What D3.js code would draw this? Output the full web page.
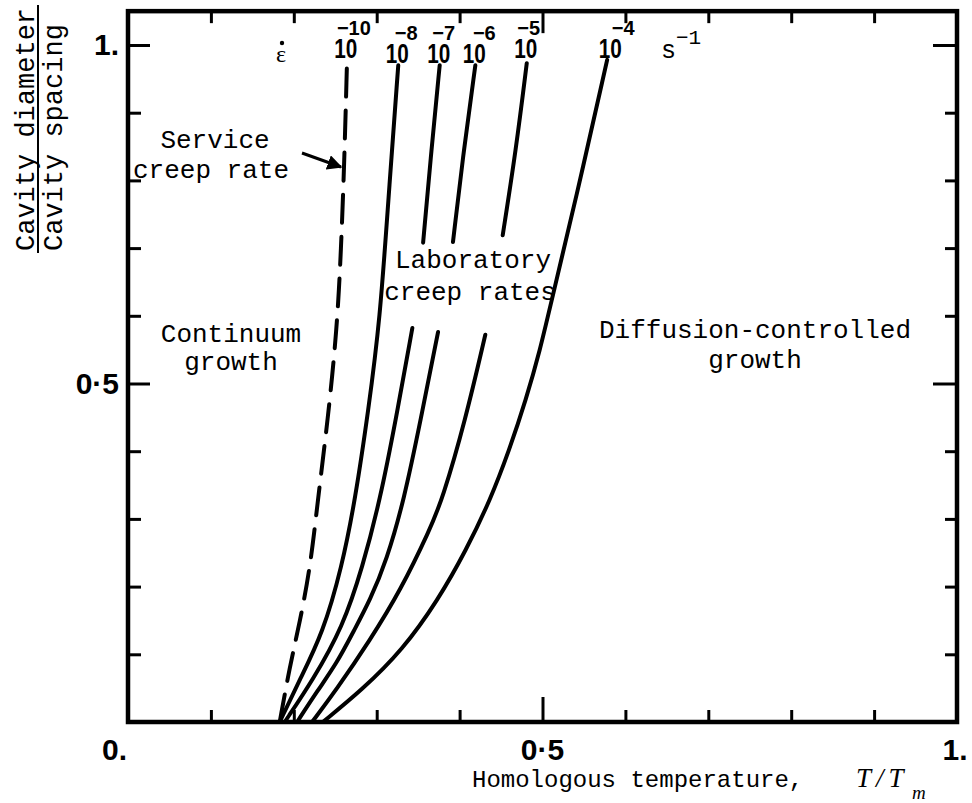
<!DOCTYPE html>
<html>
<head>
<meta charset="utf-8">
<script src="https://cdn.jsdelivr.net/npm/d3@7"></script>
<style>
  body { margin: 0; background: #fff; }
  svg { display: block; }
</style>
</head>
<body>
<svg id="chart" width="972" height="803"></svg>
<script>
// Strain-rate exponents labelling each curve (10^n s^-1)
const rateExponents = ["−10", "−8", "−7", "−6", "−5", "−4"];

// Boundary curves: [T/Tm, cavity diameter / spacing]; null marks a break in the line
const serviceRate = [[0.183,0],[0.195,0.081],[0.207,0.146],[0.220,0.229],[0.229,0.328],[0.241,0.446],[0.252,0.579],[0.257,0.697],[0.261,0.830],[0.264,0.967]];
const rateE8 = [[0.183,0],[0.207,0.062],[0.235,0.131],[0.258,0.229],[0.274,0.328],[0.290,0.461],[0.304,0.594],[0.314,0.771],[0.326,0.970]];
const rateE7 = [[0.189,0],[0.223,0.062],[0.259,0.140],[0.283,0.229],[0.304,0.328],[0.323,0.446],[0.343,0.582],null,[0.356,0.708],[0.366,0.845],[0.376,0.970]];
const rateE6 = [[0.204,0],[0.229,0.047],[0.252,0.087],[0.273,0.136],[0.292,0.180],[0.312,0.239],[0.333,0.328],[0.353,0.446],[0.374,0.576],null,[0.392,0.709],[0.405,0.845],[0.419,0.970]];
const rateE5 = [[0.222,0],[0.251,0.047],[0.292,0.121],[0.329,0.195],[0.364,0.284],[0.379,0.328],[0.407,0.446],[0.431,0.572],null,[0.452,0.719],[0.468,0.845],[0.481,0.973]];
const rateE4 = [[0.235,0],[0.282,0.047],[0.331,0.106],[0.374,0.180],[0.408,0.254],[0.437,0.328],[0.460,0.402],[0.480,0.476],[0.497,0.549],[0.511,0.623],[0.540,0.771],[0.578,0.978]];

// Axis ticks and labels
const xMinorTicks = [0.1,0.2,0.3,0.4,0.6,0.7,0.8,0.9];
const xMajorTicks = [0.5];
const yMinorTicks = [0.1,0.2,0.3,0.4,0.6,0.7,0.8,0.9];
const yMajorTicks = [0.5,1.0];
const xTickLabels = [[0,"0."],[0.5,"0·5"],[1,"1."]];
const yTickLabels = [[0.5,"0·5"],[1,"1."]];

const curves = [
  { pts: serviceRate, exp: rateExponents[0], dashed: true },
  { pts: rateE8, exp: rateExponents[1] },
  { pts: rateE7, exp: rateExponents[2] },
  { pts: rateE6, exp: rateExponents[3] },
  { pts: rateE5, exp: rateExponents[4] },
  { pts: rateE4, exp: rateExponents[5] }
];

const svg = d3.select("#chart");
const x = d3.scaleLinear().domain([0, 1]).range([128, 957]);
const y = d3.scaleLinear().domain([0, 1]).range([722, 45]);
const yTop = 1.05;

const mono = "'Liberation Mono', 'DejaVu Sans Mono', monospace";
const bold = "'Liberation Sans', Arial, sans-serif";
const serif = "'Liberation Serif', 'DejaVu Serif', serif";

// Ticks (pointing inwards on all four sides)
function ticks(axis, pos, values, size) {
  const g = svg.append("g").attr("transform", pos).call(axis.tickValues(values).tickSize(size).tickFormat(""));
  g.select(".domain").remove();
  g.selectAll(".tick line").attr("stroke", "#000").attr("stroke-width", 3);
}
ticks(d3.axisTop(x), `translate(0,${y(0)})`, xMinorTicks, 12);
ticks(d3.axisTop(x), `translate(0,${y(0)})`, xMajorTicks, 25);
ticks(d3.axisBottom(x), `translate(0,${y(yTop)})`, xMinorTicks, 12);
ticks(d3.axisBottom(x), `translate(0,${y(yTop)})`, xMajorTicks, 22);
ticks(d3.axisRight(y), `translate(${x(0)},0)`, yMinorTicks, 13);
ticks(d3.axisRight(y), `translate(${x(0)},0)`, yMajorTicks, 22);
ticks(d3.axisLeft(y), `translate(${x(1)},0)`, yMinorTicks, 12);
ticks(d3.axisLeft(y), `translate(${x(1)},0)`, yMajorTicks, 24);

// Frame
svg.append("rect")
  .attr("x", x(0)).attr("y", y(yTop))
  .attr("width", x(1) - x(0)).attr("height", y(0) - y(yTop))
  .attr("fill", "none").attr("stroke", "#000").attr("stroke-width", 4.5);

// Curves
const line = d3.line()
  .defined(d => d !== null)
  .x(d => x(d[0])).y(d => y(d[1]))
  .curve(d3.curveBasis);

curves.forEach(c => {
  svg.append("path")
    .attr("d", line(c.pts))
    .attr("fill", "none").attr("stroke", "#000")
    .attr("stroke-width", 4)
    .attr("stroke-linecap", "round")
    .attr("stroke-dasharray", c.dashed ? "28,14" : null);
});

// Rate labels 10^n above each curve top
const labelDy = [-9, -2, -2, -2, -5, -2];
const expDx = [8, 9, 5, 10, 3, 13];
curves.forEach((c, i) => {
  const top = c.pts[c.pts.length - 1];
  const cx = x(top[0]) - (i === 5 ? -3 : 1);
  const by = y(top[1]) + labelDy[i];
  svg.append("text")
    .attr("transform", `translate(${cx},${by}) scale(0.74,1)`)
    .attr("text-anchor", "middle")
    .attr("font-family", bold).attr("font-weight", "bold").attr("font-size", 28)
    .text("10");
  svg.append("text")
    .attr("x", cx + expDx[i]).attr("y", by - 23)
    .attr("text-anchor", "middle")
    .attr("font-family", bold).attr("font-weight", "bold").attr("font-size", 20)
    .text(c.exp);
});

// Strain-rate symbol and unit
svg.append("text").attr("x", 281).attr("y", 62).attr("text-anchor", "middle")
  .attr("font-family", serif).attr("font-size", 24).text("ε");
svg.append("circle").attr("cx", 282).attr("cy", 43).attr("r", 2.2).attr("fill", "#000");
svg.append("text").attr("x", 661).attr("y", 58)
  .attr("font-family", mono).attr("font-size", 25).text("s");
svg.append("text").attr("x", 676).attr("y", 44)
  .attr("font-family", mono).attr("font-size", 21).text("−1");

// Region annotations
const notes = [
  ["Service", 215, 148], ["creep rate", 211, 178],
  ["Continuum", 231, 342], ["growth", 231, 370],
  ["Laboratory", 473, 268], ["creep rates", 470, 300],
  ["Diffusion-controlled", 755, 338], ["growth", 755, 368]
];
notes.forEach(([t, nx, ny]) => {
  svg.append("text").attr("x", nx).attr("y", ny).attr("text-anchor", "middle")
    .attr("font-family", mono).attr("font-size", 26).text(t);
});

// Arrow pointing at the service creep-rate line
svg.append("defs").append("marker")
  .attr("id", "head").attr("viewBox", "0 0 10 10").attr("refX", 9).attr("refY", 5)
  .attr("markerWidth", 5).attr("markerHeight", 5).attr("orient", "auto")
  .append("path").attr("d", "M0,0 L10,5 L0,10 z").attr("fill", "#000");
svg.append("line")
  .attr("x1", 302).attr("y1", 153).attr("x2", 341).attr("y2", 167)
  .attr("stroke", "#000").attr("stroke-width", 3).attr("marker-end", "url(#head)");

// Tick labels
xTickLabels.forEach(([v, t], i) => {
  svg.append("text")
    .attr("x", i === 0 ? x(v) - 1 : x(v) + (i === 2 ? -2 : 0)).attr("y", 760)
    .attr("text-anchor", i === 0 ? "end" : "middle")
    .attr("font-family", bold).attr("font-weight", "bold").attr("font-size", 30).text(t);
});
yTickLabels.forEach(([v, t]) => {
  svg.append("text")
    .attr("x", x(0) - 9).attr("y", y(v) + 10).attr("text-anchor", "end")
    .attr("font-family", bold).attr("font-weight", "bold").attr("font-size", 30).text(t);
});

// Axis titles
svg.append("text").attr("x", 472).attr("y", 787)
  .attr("font-family", mono).attr("font-size", 24).text("Homologous temperature,");
svg.append("text").attr("x", 856).attr("y", 787)
  .attr("font-family", serif).attr("font-style", "italic").attr("font-size", 27)
  .attr("letter-spacing", 5).text("T/T");
svg.append("text").attr("x", 912).attr("y", 799)
  .attr("font-family", serif).attr("font-style", "italic").attr("font-size", 19).text("m");

const yt = svg.append("g").attr("transform", "translate(34,251) rotate(-90)");
yt.append("text").attr("x", 0).attr("y", 0).attr("font-family", mono).attr("font-size", 27).text("Cavity diameter");
yt.append("text").attr("x", 0).attr("y", 28).attr("font-family", mono).attr("font-size", 27).text("Cavity spacing");
yt.append("line").attr("x1", -2).attr("x2", 246).attr("y1", 4).attr("y2", 4)
  .attr("stroke", "#000").attr("stroke-width", 2);
</script>
</body>
</html>
